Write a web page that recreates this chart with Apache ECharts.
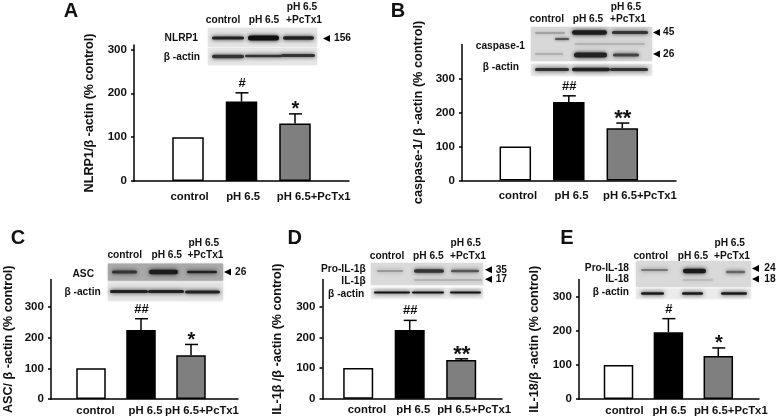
<!DOCTYPE html>
<html><head><meta charset="utf-8">
<style>html,body{margin:0;padding:0;background:#fff}#c{width:778px;height:418px;filter:blur(0.35px)}</style>
<script src="https://cdn.jsdelivr.net/npm/echarts@6/dist/echarts.min.js"></script>
</head><body><div id="c"></div>
<script>
const categories = ['control', 'pH 6.5', 'pH 6.5+PcTx1'];
const tickLabels = [0, 100, 200, 300];
const valuesA = [100, 181, 131];
const valuesB = [100, 231, 154];
const valuesC = [100, 225, 143];
const valuesD = [100, 224, 126];
const valuesE = [100, 196, 126];
const errorTopA = [null, 201, 153];
const errorTopB = [null, 249, 169];
const errorTopC = [null, 262, 178];
const errorTopD = [null, 255, 130];
const errorTopE = [null, 236, 150];
const marksA = ['', '#', '*'];
const marksB = ['', '##', '**'];
const marksC = ['', '##', '*'];
const marksD = ['', '##', '**'];
const marksE = ['', '#', '*'];
const namesY = {
  A: 'NLRP1/β -actin (% control)', B: 'caspase-1/ β -actin (% control)',
  C: 'ASC/ β -actin (% control)', D: 'IL-1β /β -actin (% control)', E: 'IL-18/β -actin (% control)'
};
const barColors = ['#ffffff', '#000000', '#7f7f7f'];
const FONT = '"Liberation Sans", Arial, sans-serif';

const panels = [
 {k:'A',v:valuesA,e:errorTopA,m:marksA,x0:134,x1:349,y0:181,top:45,max:310,c1:188,sp:53.5,bw:31.5,labelAt:[1.03,2.03,3.35],lm:10,gap:38,nf:12.6},
 {k:'B',v:valuesB,e:errorTopB,m:marksB,x0:462,x1:676,y0:180.5,top:44.5,max:400,c1:515.3,sp:53.5,bw:31.5,labelAt:[1.05,2.05,3.33],lm:10,gap:37,nf:12.7},
 {k:'C',v:valuesC,e:errorTopC,m:marksC,x0:51,x1:238,y0:399,top:279.5,max:390,c1:91,sp:50,bw:29.5,labelAt:[1.09,2.09,3.22],lm:6,gap:36,nf:12.6},
 {k:'D',v:valuesD,e:errorTopD,m:marksD,x0:322.5,x1:502,y0:398.8,top:279.5,max:388,c1:358.2,sp:51.5,bw:30,labelAt:[1.17,2.07,3.25],lm:6,gap:38,nf:12.6},
 {k:'E',v:valuesE,e:errorTopE,m:marksE,x0:579,x1:759,y0:399,top:279.5,max:351,c1:618.5,sp:49.9,bw:29.5,labelAt:[1.12,2.02,3.25],lm:6,gap:38,nf:12.6}
];

const grid=[],xAxis=[],yAxis=[],series=[];
panels.forEach((p,i)=>{
  grid.push({left:p.x0,width:p.x1-p.x0,top:p.top,height:p.y0-p.top,containLabel:false});
  xAxis.push({type:'value',gridIndex:i,min:1-(p.c1-p.x0)/p.sp,max:1+(p.x1-p.c1)/p.sp,splitLine:{show:false},
    axisLine:{show:true,onZero:false,lineStyle:{color:'#000',width:1.5}},axisTick:{show:false},
    axisLabel:{customValues:p.labelAt,margin:p.lm,fontFamily:FONT,fontWeight:'bold',fontSize:11.3,color:'#111',
      hideOverlap:false,formatter:(val)=>categories[p.labelAt.indexOf(val)]}});
  yAxis.push({type:'value',gridIndex:i,min:0,max:p.max,splitLine:{show:false},
    name:namesY[p.k],nameLocation:'middle',nameGap:p.gap,nameRotate:90,
    nameTextStyle:{fontFamily:FONT,fontWeight:'bold',fontSize:p.nf,color:'#111'},
    axisLine:{show:true,onZero:false,lineStyle:{color:'#000',width:1.5}},
    axisTick:{show:true,length:3,customValues:tickLabels,lineStyle:{color:'#000',width:1.5}},
    axisLabel:{customValues:tickLabels,margin:7,fontFamily:FONT,fontWeight:'bold',fontSize:11.6,color:'#111'}});
  series.push({type:'bar',xAxisIndex:i,yAxisIndex:i,barWidth:p.bw,silent:true,
    data:p.v.map((y,j)=>({value:[j+1,y],itemStyle:{color:barColors[j],borderColor:'#000',borderWidth:1.5}}))});
  series.push({type:'custom',xAxisIndex:i,yAxisIndex:i,silent:true,clip:false,z:5,
    data:p.v.map((y,j)=>[j+1,y,p.e[j]]).filter(d=>d[2]!=null),
    encode:{x:0,y:2},
    renderItem:(params,api)=>{
      const a=api.coord([api.value(0),api.value(1)]),b=api.coord([api.value(0),api.value(2)]);
      const cap=6.5, s={stroke:'#000',lineWidth:1.5,fill:null};
      const mark=p.m[params.dataIndex+1];
      const star=mark.includes('*');
      return {type:'group',children:[
        {type:'line',shape:{x1:a[0],y1:a[1],x2:a[0],y2:b[1]},style:s},
        {type:'line',shape:{x1:a[0]-cap+.5,y1:b[1],x2:a[0]+cap+.5,y2:b[1]},style:s},
        {type:'text',style:{x:a[0]+.5,y:b[1]-(star?4:9.5),text:mark,align:'center',verticalAlign:'middle',
          fontFamily:FONT,fill:'#111',fontWeight:'bold',fontSize:star?(mark.length>1?22:20):13}}
      ]};
    }});
});

/* Western-blot insets: purely decorative shapes */
const g=[];
const rect=(x,y,w,h,fill)=>g.push({type:'rect',shape:{x,y,width:w,height:h},style:{fill,shadowColor:fill,shadowBlur:2},silent:true});
const band=(x,y,w,h,fill,blur)=>g.push({type:'rect',shape:{x:x,y:y-h/2,width:w,height:h,r:h/2},
  style:{fill,shadowColor:fill,shadowBlur:blur==null?4:blur},silent:true});
const txt=(x,y,text,align,size)=>g.push({type:'text',x,y,silent:true,style:{text,align:align||'center',verticalAlign:'middle',
  fontFamily:FONT,fontWeight:'bold',fontSize:size||10.2,fill:'#111'}});
const arrow=(x,y)=>g.push({type:'polygon',silent:true,shape:{points:[[x,y],[x+7,y-3.5],[x+7,y+3.5]]},style:{fill:'#000'}});
const heads=(c,p,r,rp,y)=>{txt(c,y,'control');txt(p,y,'pH 6.5');txt(r,y-12.5,'pH 6.5');txt(rp,y,'+PcTx1');};

// A
rect(208,28,109,19,'#e4e4e4');rect(208,48,109,17,'#e6e6e6');
band(212,38,32,3,'#222');band(248,38,31,5,'#111');band(283,38,31,3.5,'#222');
band(212,56.5,32,3.5,'#333');band(245,56,37,2.5,'#333');band(281,55.5,34,3,'#333');
heads(223,264,302,304,20);txt(198,38.5,'NLRP1','right');txt(200,57,'β -actin','right');arrow(323,38.5);txt(334,38.5,'156','left');
// B
rect(531,27,121,34,'#d8d8d8');rect(531,64,121,11.5,'#e6e6e6');
band(572,32.5,35,4.5,'#1c1c1c');band(612,32.5,36,3,'#333');band(535,33,30,1.5,'#999',3);band(555,39,14,2,'#555',3);
band(535,54,28,1,'#999',3);band(574,55,33,5,'#222');band(613,55,26,3,'#444');band(575,44,70,1.5,'#aaa',4);
band(535,69.5,34,3,'#333');band(572,69.5,38,3.5,'#222');band(610,69.5,38,3,'#333');
heads(546.7,588,626,628,19.5);txt(525,46,'caspase-1','right');txt(519,67,'β -actin','right');
arrow(653,32.5);txt(663,32.5,'45','left');arrow(653,54);txt(663,54,'26','left');
// C
rect(108,263.5,115,17,'#a9a9a9');rect(108,282.5,115,18,'#e2e2e2');
band(112,272,25,3,'#333');band(149,272,29,4.5,'#1c1c1c');band(187,272,30,2.5,'#222');
band(110,291.5,38,3,'#222');band(148,291.5,36,3,'#222');band(185,292,35,3,'#222');
heads(124.7,166.7,203.8,205.5,255.5);txt(94,274,'ASC','right');txt(100.7,292.5,'β -actin','right');arrow(224,272);txt(235,272,'26','left');
// D
rect(371,263,112,22,'#dadada');rect(371,288,112,10.5,'#ececec');
band(377,271,26,2,'#999',4);band(414,271,30,3.5,'#333');band(451,271,28,2.5,'#555');band(414,280,68,1.5,'#aaa',4);
band(374,292.5,36,2,'#111');band(412,292.5,32,2,'#111');band(450,292.5,31,2,'#111');
heads(387,428.3,465.7,468,255.7);txt(365.7,269.5,'Pro-IL-1β','right');txt(365.7,281.5,'IL-1β','right');txt(364.3,294,'β -actin','right');
arrow(485,269.7);txt(495.7,269.7,'35','left');arrow(485,279.3);txt(495.7,279.3,'17','left');
// E
rect(636,261,115,26,'#d9d9d9');rect(636,288.5,115,10,'#ebebeb');
band(641,270,27,2,'#777',4);band(683,271,23,4.5,'#1a1a1a');band(726,272,19,2.5,'#666',4);band(683,280,30,2,'#bbb',4);
band(641,293.5,23,2.5,'#1a1a1a');band(682,293.5,21,2.5,'#1a1a1a');band(721,293.5,26,2.5,'#1a1a1a');
heads(650.7,693,729.7,732,255.7);txt(629,268.5,'Pro-IL-18','right');txt(629,279,'IL-18','right');txt(629,292.5,'β -actin','right');
arrow(752,268.5);txt(764.3,268.5,'24','left');arrow(752,279);txt(764.3,279,'18','left');
// Panel letters
[['A',71,11],['B',398,11],['C',18,238],['D',294.7,238],['E',567,238]].forEach(a=>txt(a[1],a[2],a[0],'center',20));

const chart=echarts.init(document.getElementById('c'),null,{renderer:'canvas'});
chart.setOption({animation:false,backgroundColor:'#fff',tooltip:{show:false},grid,xAxis,yAxis,series,graphic:{elements:g}});
</script></body></html>
